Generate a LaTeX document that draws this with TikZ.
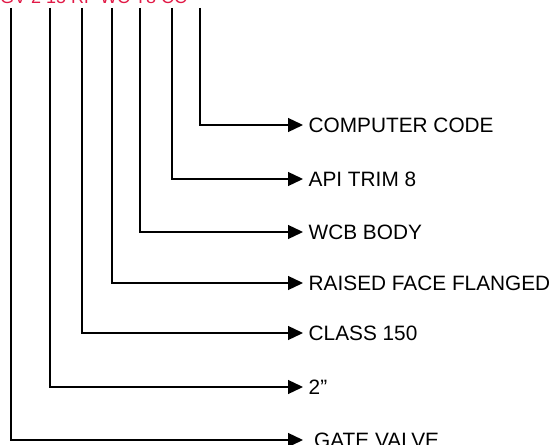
\documentclass[tikz,border=0pt]{standalone}
\usepackage{fontspec}
\setmainfont{Liberation Sans}
\usetikzlibrary{arrows.meta}
\begin{document}
\begin{tikzpicture}[x=1bp,y=-1bp,
  conn/.style={line width=1.3bp,-{Triangle[length=15bp,width=14bp]}},
  lbl/.style={anchor=west,inner xsep=5.5bp,inner ysep=0pt,font=\fontsize{20.8bp}{24bp}\selectfont,text height=14.9bp,text depth=0pt},
  codetxt/.style={anchor=base west,inner sep=0pt,text=codered,font=\fontsize{18bp}{22bp}\selectfont}]
\definecolor{codered}{RGB}{225,25,70}
\useasboundingbox (0,0) rectangle (554,445);
\clip (0,0) rectangle (554,445);
\node[codetxt] (code) at (0,4) {GV 2 15 RF WC T8 CC};
% top ends of the vertical leaders
\coordinate (t1) at (11,8);
\coordinate (t2) at (50,8);
\coordinate (t3) at (82,8);
\coordinate (t4) at (112,8);
\coordinate (t5) at (140,8);
\coordinate (t6) at (172,8);
\coordinate (t7) at (200,8);
% labels
\node[lbl] (l7) at (303,125) {COMPUTER CODE};
\node[lbl] (l6) at (303,179) {API TRIM 8};
\node[lbl] (l5) at (303,232) {WCB BODY};
\node[lbl] (l4) at (303,283) {RAISED FACE FLANGED};
\node[lbl] (l3) at (303,333) {CLASS 150};
\node[lbl] (l2) at (303,387) {2\symbol{34}};
\node[lbl,inner xsep=11bp] (l1) at (303,440) {GATE VALVE};
% connectors
\draw[conn] (t7) |- (l7.west);
\draw[conn] (t6) |- (l6.west);
\draw[conn] (t5) |- (l5.west);
\draw[conn] (t4) |- (l4.west);
\draw[conn] (t3) |- (l3.west);
\draw[conn] (t2) |- (l2.west);
\draw[conn] (t1) |- (l1.west);
\end{tikzpicture}
\end{document}
